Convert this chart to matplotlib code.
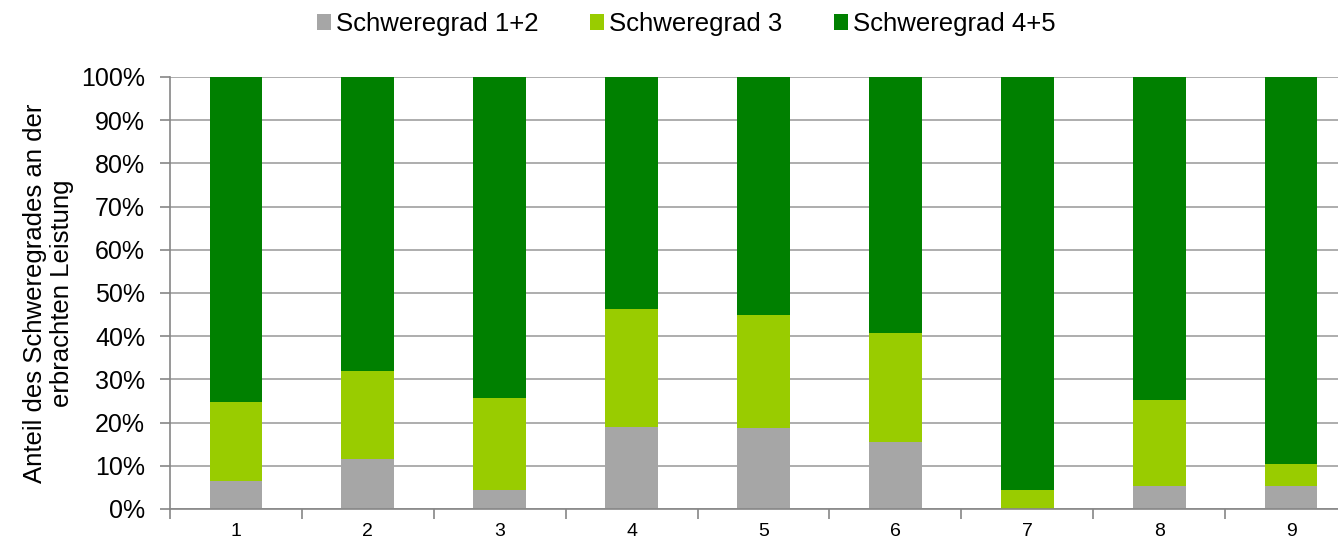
import matplotlib.pyplot as plt
import numpy as np
from matplotlib.ticker import PercentFormatter

plt.rcParams['font.family'] = ['Liberation Sans', 'DejaVu Sans']

categories = ['1', '2', '3', '4', '5', '6', '7', '8', '9']
grad_12 = [6.5, 11.5, 4.3, 18.9, 18.8, 15.6, 0.0, 5.4, 5.4]
grad_3 = [18.3, 20.4, 21.4, 27.3, 26.1, 25.1, 4.4, 19.9, 5.1]
grad_45 = [100 - a - b for a, b in zip(grad_12, grad_3)]

colors = ['#a6a6a6', '#99cc00', '#008000']
labels = ['Schweregrad 1+2', 'Schweregrad 3', 'Schweregrad 4+5']

fig = plt.figure(figsize=(13.38, 5.4), dpi=100)
ax = fig.add_axes([170 / 1338, 31 / 540, 1187 / 1338, 432 / 540])

x = np.arange(len(categories))
bottom = np.zeros(len(categories))
for vals, c, lab in zip([grad_12, grad_3, grad_45], colors, labels):
    ax.bar(x, vals, width=0.4, bottom=bottom, color=c, label=lab, zorder=3)
    bottom += np.array(vals)

ax.set_xlim(-0.5, len(categories) - 0.5)
ax.set_ylim(0, 100)
ax.set_yticks(np.arange(0, 101, 10))
ax.yaxis.set_major_formatter(PercentFormatter(decimals=0))
ax.grid(axis='y', color='#a0a0a0', linewidth=1.2, zorder=0)

ax.set_xticks(x)
ax.set_xticklabels(categories, fontsize=14)
ax.set_xticks(np.arange(-0.5, len(categories)), minor=True)
ax.tick_params(axis='x', which='major', length=0, pad=10)
ax.tick_params(axis='x', which='minor', length=7, color='#868686', width=1.2)
ax.tick_params(axis='y', labelsize=18, length=7, color='#868686', width=1.2, pad=11)

for s in ['top', 'right']:
    ax.spines[s].set_visible(False)
for s in ['left', 'bottom']:
    ax.spines[s].set_color('#868686')
    ax.spines[s].set_linewidth(1.2)
    ax.spines[s].set_zorder(4)

ax.set_ylabel('Anteil des Schweregrades an der\nerbrachten Leistung', fontsize=18.5,
              linespacing=1.15, labelpad=5)

fig.legend(loc='upper center', bbox_to_anchor=(0.513, 1.02), ncol=3, frameon=False,
           fontsize=18.5, handlelength=0.55, handleheight=0.55, handletextpad=0.2,
           columnspacing=2.0)

fig.savefig('out.png', dpi=100)
